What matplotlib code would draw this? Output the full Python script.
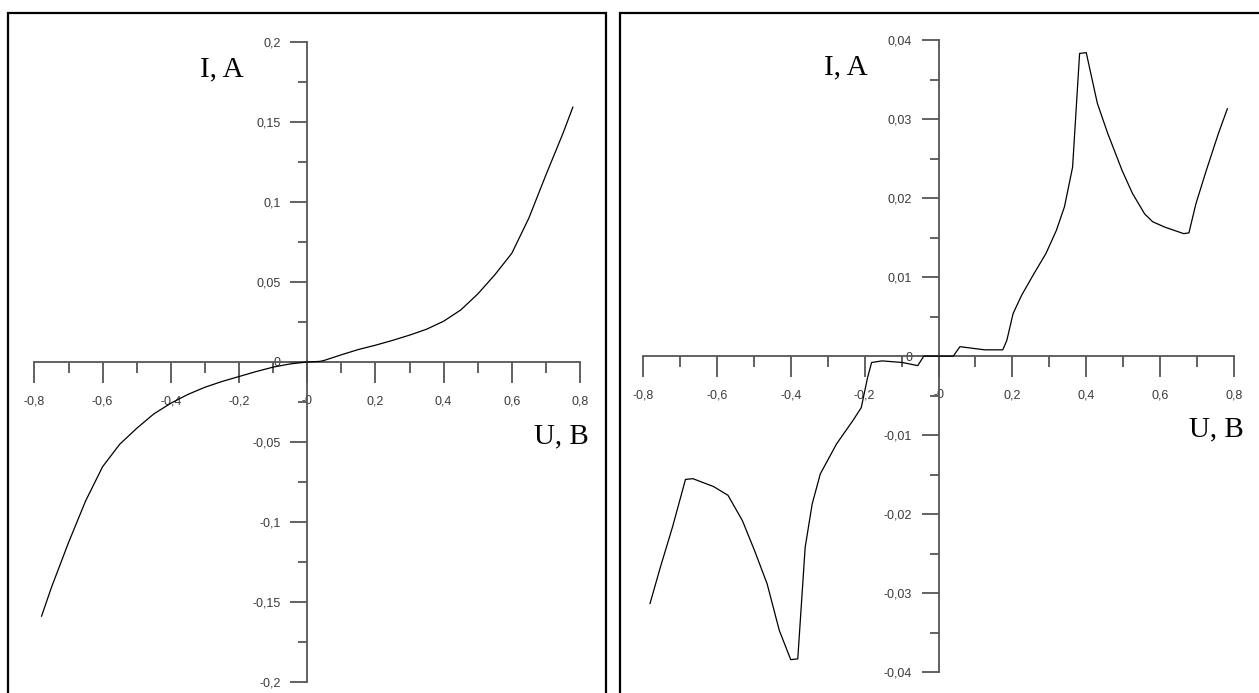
import numpy as np
import matplotlib
matplotlib.use("Agg")
import matplotlib.pyplot as plt
from matplotlib.patches import Rectangle
from matplotlib.ticker import FixedLocator, FixedFormatter, MultipleLocator

# left panel: smooth I-V curve
u_left = [-0.779, -0.750, -0.700, -0.650, -0.600, -0.550, -0.500, -0.450, -0.400,
          -0.350, -0.300, -0.250, -0.200, -0.150, -0.100, -0.050, 0.0, 0.038,
          0.050, 0.100, 0.150, 0.200, 0.250, 0.300, 0.350, 0.400, 0.450, 0.500,
          0.550, 0.600, 0.650, 0.700, 0.750, 0.779]
i_left = [-0.159, -0.141, -0.113, -0.087, -0.0655, -0.0515, -0.0415, -0.0325, -0.0258,
          -0.0203, -0.0158, -0.0122, -0.0091, -0.0060, -0.0032, -0.0012, 0.0, 0.0004,
          0.0010, 0.0045, 0.0078, 0.0105, 0.0135, 0.0168, 0.0205, 0.0255, 0.0325, 0.0425,
          0.0545, 0.0680, 0.0900, 0.1170, 0.1430, 0.1594]

# right panel: I-V curve with peaks
u_right = [-0.781, -0.753, -0.720, -0.685, -0.665, -0.609, -0.570, -0.531, -0.498,
           -0.464, -0.431, -0.400, -0.381, -0.361, -0.342, -0.320, -0.276, -0.231,
           -0.209, -0.192, -0.181, -0.153, -0.098, -0.056, -0.040, 0.040, 0.058,
           0.125, 0.174, 0.185, 0.202, 0.225, 0.258, 0.291, 0.319, 0.341, 0.363,
           0.382, 0.400, 0.430, 0.458, 0.497, 0.525, 0.558, 0.580, 0.614, 0.664,
           0.678, 0.697, 0.725, 0.758, 0.782]
i_right = [-0.0313, -0.0267, -0.0216, -0.0156, -0.0155, -0.0165, -0.0176, -0.0208, -0.0246,
           -0.0288, -0.0347, -0.0384, -0.0383, -0.0242, -0.0187, -0.0149, -0.0111, -0.0081,
           -0.0065, -0.0027, -0.0008, -0.0006, -0.0008, -0.0012, 0.0, 0.0, 0.0012,
           0.0008, 0.0008, 0.0020, 0.0054, 0.0077, 0.0104, 0.0130, 0.0159, 0.0189, 0.0239,
           0.0383, 0.0384, 0.0320, 0.0282, 0.0235, 0.0206, 0.0180, 0.0170, 0.0163, 0.0155,
           0.0156, 0.0193, 0.0235, 0.0282, 0.0313]

x_ticks = [-0.8, -0.6, -0.4, -0.2, 0.0, 0.2, 0.4, 0.6, 0.8]
x_labels = ["-0,8", "-0,6", "-0,4", "-0,2", "-0", "0,2", "0,4", "0,6", "0,8"]
y_ticks_left = [-0.2, -0.15, -0.1, -0.05, 0.0, 0.05, 0.1, 0.15, 0.2]
y_labels_left = ["-0,2", "-0,15", "-0,1", "-0,05", "0", "0,05", "0,1", "0,15", "0,2"]
y_ticks_right = [-0.04, -0.03, -0.02, -0.01, 0.0, 0.01, 0.02, 0.03, 0.04]
y_labels_right = ["-0,04", "-0,03", "-0,02", "-0,01", "0", "0,01", "0,02", "0,03", "0,04"]

W, H = 1259, 693
AX_COL = "#555555"
TICK_FONT = ["Liberation Sans Narrow", "Liberation Sans", "DejaVu Sans"]
SERIF = ["Liberation Serif", "DejaVu Serif"]


def box(px_left, px_right, px_top, px_bottom):
    return [px_left / W, 1 - px_bottom / H, (px_right - px_left) / W, (px_bottom - px_top) / H]


def style_axes(ax, yticks, ylabels, ylim, yminor):
    ax.set_xlim(-0.8, 0.8)
    ax.set_ylim(*ylim)
    for s in ("top", "right"):
        ax.spines[s].set_visible(False)
    ax.spines["left"].set_position(("data", 0))
    ax.spines["bottom"].set_position(("data", 0))
    for s in ("left", "bottom"):
        ax.spines[s].set_color(AX_COL)
        ax.spines[s].set_linewidth(1.3)
    ax.xaxis.set_major_locator(FixedLocator(x_ticks))
    ax.xaxis.set_major_formatter(FixedFormatter(x_labels))
    ax.xaxis.set_minor_locator(MultipleLocator(0.1))
    ax.yaxis.set_major_locator(FixedLocator(yticks))
    ax.yaxis.set_major_formatter(FixedFormatter(ylabels))
    ax.yaxis.set_minor_locator(MultipleLocator(yminor))
    ax.tick_params(axis="x", which="major", direction="out", length=15, width=1.3,
                   color=AX_COL, pad=9)
    ax.tick_params(axis="x", which="minor", direction="out", length=8, width=1.3, color=AX_COL)
    ax.tick_params(axis="y", which="major", direction="out", length=12, width=1.3,
                   color=AX_COL, pad=7)
    ax.tick_params(axis="y", which="minor", direction="out", length=6.5, width=1.3, color=AX_COL)
    for lab in ax.get_xticklabels() + ax.get_yticklabels():
        lab.set_family(TICK_FONT)
        lab.set_fontsize(9)
        lab.set_color("#3a3a3a")
    ax.patch.set_visible(False)
    ax.text(0.344, 0.946, "I, A", transform=ax.transAxes, ha="center", va="baseline",
            family=SERIF, fontsize=21, color="black")
    ax.text(1.016, 0.373, "U, B", transform=ax.transAxes, ha="right", va="baseline",
            family=SERIF, fontsize=21, color="black")


fig = plt.figure(figsize=(W / 100, H / 100), dpi=100)

# panel frames (cut off at the bottom / right edge of the picture)
for x0, x1 in ((8, 606), (620, 1275)):
    fig.patches.append(Rectangle((x0 / W, -0.05), (x1 - x0) / W, 1.05 - 12.5 / H,
                                 transform=fig.transFigure, fill=False,
                                 ec="black", lw=1.6, zorder=0))

ax1 = fig.add_axes(box(34.4, 580, 42.3, 681.7))
ax1.plot(u_left, i_left, color="black", lw=0.9, clip_on=False, zorder=3)
style_axes(ax1, y_ticks_left, y_labels_left, (-0.2, 0.2), 0.025)

ax2 = fig.add_axes(box(643, 1234, 40, 672.3))
ax2.plot(u_right, i_right, color="black", lw=0.9, clip_on=False, zorder=3)
style_axes(ax2, y_ticks_right, y_labels_right, (-0.04, 0.04), 0.005)

fig.savefig("out.png", dpi=100)
